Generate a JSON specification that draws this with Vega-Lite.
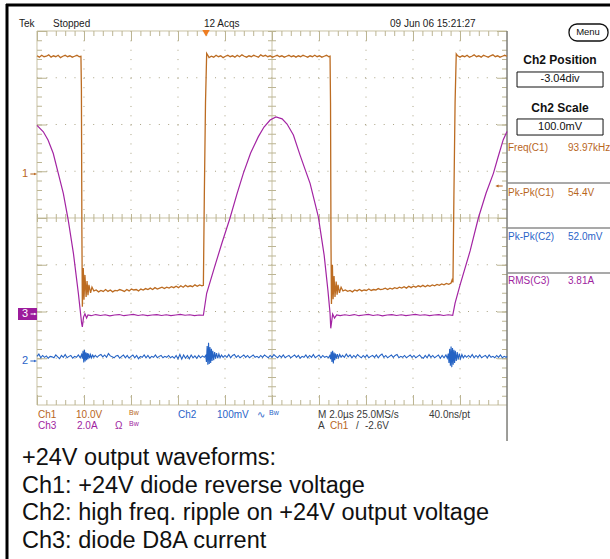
{
"$schema": "https://vega.github.io/schema/vega-lite/v6.json",
"width": 610, "height": 559, "autosize": "none", "padding": 0, "background": "white",
"config": {"view": {"stroke": null}, "text": {"font": "Liberation Sans"}},
"datasets": {
"ch1": [{"t":0,"V":25.1},{"t":0.1,"V":24.8},{"t":0.2,"V":25.2},{"t":0.3,"V":24.9},{"t":0.4,"V":25.0},{"t":0.5,"V":25.3},{"t":0.6,"V":24.8},{"t":0.7,"V":25.1},{"t":0.8,"V":24.9},{"t":0.9,"V":25.2},{"t":1.0,"V":24.7},{"t":1.1,"V":25.0},{"t":1.2,"V":25.2},{"t":1.3,"V":24.9},{"t":1.4,"V":25.1},{"t":1.5,"V":24.8},{"t":1.6,"V":25.0},{"t":1.7,"V":25.2},{"t":1.8,"V":24.9},{"t":1.87,"V":25.0},{"t":1.89,"V":18.0},{"t":1.91,"V":-12.0},{"t":1.93,"V":-28.6},{"t":1.97,"V":-20.3},{"t":2.0,"V":-27.1},{"t":2.04,"V":-21.8},{"t":2.09,"V":-26.5},{"t":2.13,"V":-23.1},{"t":2.17,"V":-26.1},{"t":2.21,"V":-23.9},{"t":2.28,"V":-25.6},{"t":2.34,"V":-24.4},{"t":2.42,"V":-25.2},
{"t":2.52,"V":-25.0},{"t":2.62,"V":-25.4},{"t":2.72,"V":-25.1},{"t":2.82,"V":-25.3},{"t":2.92,"V":-24.9},{"t":3.02,"V":-25.3},{"t":3.12,"V":-25.0},{"t":3.22,"V":-25.4},{"t":3.32,"V":-25.1},{"t":3.42,"V":-25.2},{"t":3.52,"V":-24.9},{"t":3.62,"V":-25.1},{"t":3.72,"V":-25.3},{"t":3.82,"V":-24.9},{"t":3.92,"V":-25.2},{"t":4.02,"V":-24.8},{"t":4.12,"V":-25.0},{"t":4.22,"V":-24.9},{"t":4.32,"V":-25.2},{"t":4.42,"V":-24.8},{"t":4.52,"V":-25.0},{"t":4.62,"V":-24.7},{"t":4.72,"V":-24.9},{"t":4.82,"V":-24.6},{"t":4.92,"V":-24.9},{"t":5.02,"V":-24.5},{"t":5.12,"V":-24.8},{"t":5.22,"V":-24.6},{"t":5.32,"V":-24.4},{"t":5.42,"V":-24.7},{"t":5.52,"V":-24.4},{"t":5.62,"V":-24.6},{"t":5.72,"V":-24.3},{"t":5.82,"V":-24.5},{"t":5.92,"V":-24.2},{"t":6.02,"V":-24.5},{"t":6.12,"V":-24.1},{"t":6.22,"V":-24.4},{"t":6.32,"V":-24.0},{"t":6.42,"V":-24.3},{"t":6.52,"V":-24.1},{"t":6.62,"V":-24.3},{"t":6.72,"V":-23.9},{"t":6.82,"V":-24.2},{"t":6.92,"V":-23.9},{"t":7.02,"V":-24.1},{"t":7.08,"V":-24.0},
{"t":7.12,"V":-5.0},{"t":7.17,"V":15.0},{"t":7.22,"V":25.6},{"t":7.27,"V":25.2},{"t":7.32,"V":24.7},
{"t":7.42,"V":25.0},{"t":7.52,"V":24.8},{"t":7.62,"V":25.2},{"t":7.72,"V":24.9},{"t":7.82,"V":25.1},{"t":7.92,"V":24.7},{"t":8.02,"V":25.0},{"t":8.12,"V":25.2},{"t":8.22,"V":24.9},{"t":8.32,"V":25.1},{"t":8.42,"V":24.8},{"t":8.52,"V":25.2},{"t":8.62,"V":24.9},{"t":8.72,"V":25.3},{"t":8.82,"V":25.0},{"t":8.92,"V":24.8},{"t":9.02,"V":25.1},{"t":9.12,"V":24.9},{"t":9.22,"V":25.2},{"t":9.32,"V":25.0},{"t":9.42,"V":24.8},{"t":9.52,"V":25.3},{"t":9.62,"V":25.0},{"t":9.72,"V":25.2},{"t":9.82,"V":24.9},{"t":9.92,"V":25.1},{"t":10.02,"V":24.8},{"t":10.12,"V":25.0},{"t":10.22,"V":25.2},{"t":10.32,"V":24.9},{"t":10.42,"V":25.1},{"t":10.52,"V":24.8},{"t":10.62,"V":25.0},{"t":10.72,"V":25.2},{"t":10.82,"V":24.9},{"t":10.92,"V":25.1},{"t":11.02,"V":24.8},{"t":11.12,"V":25.1},{"t":11.22,"V":24.9},{"t":11.32,"V":25.2},{"t":11.42,"V":25.0},{"t":11.52,"V":24.8},{"t":11.62,"V":25.1},{"t":11.72,"V":24.9},{"t":11.82,"V":25.2},{"t":11.92,"V":24.9},{"t":12.02,"V":25.1},{"t":12.12,"V":24.8},{"t":12.22,"V":25.0},{"t":12.32,"V":25.2},{"t":12.42,"V":24.9},{"t":12.47,"V":25.0},
{"t":12.49,"V":15.0},{"t":12.51,"V":-15.0},{"t":12.53,"V":-28.0},{"t":12.57,"V":-19.6},{"t":12.6,"V":-27.0},{"t":12.64,"V":-22.0},{"t":12.68,"V":-26.5},{"t":12.73,"V":-23.2},{"t":12.77,"V":-26.0},{"t":12.81,"V":-23.9},{"t":12.87,"V":-25.6},{"t":12.94,"V":-24.4},{"t":13.02,"V":-25.2},
{"t":13.12,"V":-25.0},{"t":13.22,"V":-25.3},{"t":13.32,"V":-25.1},{"t":13.42,"V":-25.4},{"t":13.52,"V":-25.0},{"t":13.62,"V":-25.2},{"t":13.72,"V":-24.9},{"t":13.82,"V":-25.2},{"t":13.92,"V":-25.0},{"t":14.02,"V":-25.1},{"t":14.12,"V":-24.8},{"t":14.22,"V":-25.1},{"t":14.32,"V":-24.9},{"t":14.42,"V":-25.0},{"t":14.52,"V":-24.7},{"t":14.62,"V":-24.9},{"t":14.72,"V":-24.8},{"t":14.82,"V":-24.6},{"t":14.92,"V":-24.9},{"t":15.02,"V":-24.6},{"t":15.12,"V":-24.8},{"t":15.22,"V":-24.5},{"t":15.32,"V":-24.7},{"t":15.42,"V":-24.4},{"t":15.52,"V":-24.6},{"t":15.62,"V":-24.3},{"t":15.72,"V":-24.6},{"t":15.82,"V":-24.2},{"t":15.92,"V":-24.5},{"t":16.02,"V":-24.2},{"t":16.12,"V":-24.4},{"t":16.22,"V":-24.1},{"t":16.32,"V":-24.3},{"t":16.42,"V":-24.0},{"t":16.52,"V":-24.3},{"t":16.62,"V":-24.0},{"t":16.72,"V":-24.2},{"t":16.82,"V":-23.9},{"t":16.92,"V":-24.1},{"t":17.02,"V":-23.8},{"t":17.12,"V":-24.0},{"t":17.22,"V":-23.7},{"t":17.32,"V":-23.9},{"t":17.42,"V":-23.6},{"t":17.52,"V":-23.8},{"t":17.62,"V":-23.5},{"t":17.68,"V":-22.6},{"t":17.7,"V":-23.4},
{"t":17.74,"V":-5.0},{"t":17.79,"V":15.0},{"t":17.84,"V":25.5},{"t":17.9,"V":25.1},
{"t":18.0,"V":24.8},{"t":18.1,"V":25.1},{"t":18.2,"V":24.9},{"t":18.3,"V":25.2},{"t":18.4,"V":24.8},{"t":18.5,"V":25.0},{"t":18.6,"V":25.3},{"t":18.7,"V":24.9},{"t":18.8,"V":25.1},{"t":18.9,"V":24.8},{"t":19.0,"V":25.2},{"t":19.1,"V":25.0},{"t":19.2,"V":24.8},{"t":19.3,"V":25.1},{"t":19.4,"V":25.3},{"t":19.5,"V":24.9},{"t":19.6,"V":25.1},{"t":19.7,"V":24.8},{"t":19.8,"V":25.0},{"t":19.9,"V":25.2},{"t":20.0,"V":25.0}],
"ch3": [{"t":0,"A":8.06},{"t":0.27,"A":7.79},{"t":0.47,"A":7.44},{"t":0.69,"A":6.87},{"t":0.89,"A":6.07},{"t":1.12,"A":5.15},{"t":1.33,"A":4.01},{"t":1.55,"A":2.59},{"t":1.76,"A":0.88},{"t":1.9,"A":-0.41},{"t":1.93,"A":-0.56},{"t":1.98,"A":-0.14},{"t":2.04,"A":0.0},{"t":2.11,"A":-0.18},{"t":2.17,"A":-0.05},
{"t":2.3,"A":-0.08},{"t":2.5,"A":-0.03},{"t":2.7,"A":-0.07},{"t":2.9,"A":-0.04},{"t":3.1,"A":-0.09},{"t":3.3,"A":-0.05},{"t":3.5,"A":-0.03},{"t":3.7,"A":-0.08},{"t":3.9,"A":-0.05},{"t":4.1,"A":-0.02},{"t":4.3,"A":-0.07},{"t":4.5,"A":-0.04},{"t":4.7,"A":-0.08},{"t":4.9,"A":-0.05},{"t":5.1,"A":-0.03},{"t":5.3,"A":-0.07},{"t":5.5,"A":-0.04},{"t":5.7,"A":-0.08},{"t":5.9,"A":-0.05},{"t":6.1,"A":-0.02},{"t":6.3,"A":-0.06},{"t":6.5,"A":-0.04},{"t":6.7,"A":-0.08},{"t":6.9,"A":-0.05},{"t":7.08,"A":-0.06},
{"t":7.22,"A":0.88},{"t":7.57,"A":2.05},{"t":7.87,"A":3.03},{"t":8.21,"A":4.09},{"t":8.51,"A":5.13},{"t":8.78,"A":6.01},{"t":9.09,"A":6.88},{"t":9.42,"A":7.58},{"t":9.66,"A":7.99},{"t":9.92,"A":8.29},{"t":10.17,"A":8.42},{"t":10.43,"A":8.34},{"t":10.64,"A":8.12},{"t":10.91,"A":7.65},{"t":11.19,"A":6.8},{"t":11.4,"A":6.2},{"t":11.62,"A":5.58},{"t":11.97,"A":4.16},{"t":12.22,"A":2.5},{"t":12.38,"A":1.0},{"t":12.47,"A":0.02},{"t":12.5,"A":-0.62},{"t":12.58,"A":-0.01},{"t":12.66,"A":-0.18},{"t":12.75,"A":-0.05},
{"t":12.9,"A":-0.08},{"t":13.1,"A":-0.04},{"t":13.3,"A":-0.07},{"t":13.5,"A":-0.03},{"t":13.7,"A":-0.08},{"t":13.9,"A":-0.05},{"t":14.1,"A":-0.02},{"t":14.3,"A":-0.07},{"t":14.5,"A":-0.04},{"t":14.7,"A":-0.09},{"t":14.9,"A":-0.05},{"t":15.1,"A":-0.03},{"t":15.3,"A":-0.07},{"t":15.5,"A":-0.04},{"t":15.7,"A":-0.08},{"t":15.9,"A":-0.05},{"t":16.1,"A":-0.02},{"t":16.3,"A":-0.06},{"t":16.5,"A":-0.04},{"t":16.7,"A":-0.08},{"t":16.9,"A":-0.05},{"t":17.1,"A":-0.03},{"t":17.3,"A":-0.07},{"t":17.5,"A":-0.04},{"t":17.69,"A":-0.06},
{"t":17.79,"A":0.46},{"t":18.0,"A":1.23},{"t":18.43,"A":2.69},{"t":18.78,"A":4.1},{"t":19.11,"A":5.17},{"t":19.42,"A":6.01},{"t":19.62,"A":6.71},{"t":19.84,"A":7.45},{"t":20.0,"A":7.8}],
"ch2": [{"t":0,"mV":8},{"t":0.08,"mV":13},{"t":0.16,"mV":5},{"t":0.24,"mV":10},{"t":0.32,"mV":6},{"t":0.4,"mV":9},{"t":0.48,"mV":4},{"t":0.56,"mV":8},{"t":0.64,"mV":7},{"t":0.72,"mV":5},{"t":0.8,"mV":11},{"t":0.88,"mV":7},{"t":0.96,"mV":3},{"t":1.04,"mV":10},{"t":1.12,"mV":6},{"t":1.2,"mV":12},{"t":1.28,"mV":5},{"t":1.36,"mV":8},{"t":1.44,"mV":10},{"t":1.52,"mV":4},{"t":1.6,"mV":8},{"t":1.68,"mV":6},{"t":1.76,"mV":11},{"t":1.84,"mV":5},
{"t":1.9,"mV":12},{"t":1.93,"mV":3},{"t":1.96,"mV":20},{"t":1.99,"mV":-5},{"t":2.02,"mV":22},{"t":2.05,"mV":-3},{"t":2.08,"mV":17},{"t":2.11,"mV":0},{"t":2.14,"mV":15},{"t":2.17,"mV":2},{"t":2.2,"mV":14},{"t":2.24,"mV":4},{"t":2.28,"mV":12},{"t":2.32,"mV":5},{"t":2.37,"mV":11},{"t":2.42,"mV":6},{"t":2.48,"mV":10},
{"t":2.56,"mV":6},{"t":2.64,"mV":10},{"t":2.72,"mV":12},{"t":2.8,"mV":7},{"t":2.88,"mV":11},{"t":2.96,"mV":6},{"t":3.04,"mV":14},{"t":3.12,"mV":9},{"t":3.2,"mV":7},{"t":3.28,"mV":5},{"t":3.36,"mV":9},{"t":3.44,"mV":10},{"t":3.52,"mV":4},{"t":3.6,"mV":8},{"t":3.68,"mV":11},{"t":3.76,"mV":5},{"t":3.84,"mV":10},{"t":3.92,"mV":4},{"t":4.0,"mV":8},{"t":4.08,"mV":11},{"t":4.16,"mV":5},{"t":4.24,"mV":10},{"t":4.32,"mV":3},{"t":4.4,"mV":8},{"t":4.48,"mV":6},{"t":4.56,"mV":11},{"t":4.64,"mV":5},{"t":4.72,"mV":10},{"t":4.8,"mV":4},{"t":4.88,"mV":8},{"t":4.96,"mV":6},{"t":5.04,"mV":11},{"t":5.12,"mV":5},{"t":5.2,"mV":8},{"t":5.28,"mV":10},{"t":5.36,"mV":5},{"t":5.44,"mV":8},{"t":5.52,"mV":6},{"t":5.6,"mV":10},{"t":5.68,"mV":5},{"t":5.76,"mV":8},{"t":5.84,"mV":4},{"t":5.92,"mV":10},{"t":6.0,"mV":3},{"t":6.08,"mV":12},{"t":6.16,"mV":2},{"t":6.24,"mV":11},{"t":6.32,"mV":4},{"t":6.4,"mV":10},{"t":6.48,"mV":3},{"t":6.56,"mV":11},{"t":6.64,"mV":5},{"t":6.72,"mV":9},{"t":6.8,"mV":4},{"t":6.88,"mV":10},{"t":6.96,"mV":5},{"t":7.04,"mV":9},{"t":7.12,"mV":6},
{"t":7.18,"mV":10},{"t":7.21,"mV":-4},{"t":7.24,"mV":30},{"t":7.27,"mV":-10},{"t":7.3,"mV":37},{"t":7.33,"mV":-8},{"t":7.36,"mV":28},{"t":7.39,"mV":-6},{"t":7.42,"mV":24},{"t":7.45,"mV":-2},{"t":7.48,"mV":20},{"t":7.52,"mV":0},{"t":7.56,"mV":17},{"t":7.6,"mV":3},{"t":7.64,"mV":15},{"t":7.69,"mV":4},{"t":7.74,"mV":13},{"t":7.79,"mV":5},{"t":7.85,"mV":11},{"t":7.92,"mV":6},{"t":8.0,"mV":10},
{"t":8.08,"mV":6},{"t":8.16,"mV":12},{"t":8.24,"mV":5},{"t":8.32,"mV":10},{"t":8.4,"mV":12},{"t":8.48,"mV":6},{"t":8.56,"mV":10},{"t":8.64,"mV":5},{"t":8.72,"mV":8},{"t":8.8,"mV":11},{"t":8.88,"mV":6},{"t":8.96,"mV":10},{"t":9.04,"mV":5},{"t":9.12,"mV":8},{"t":9.2,"mV":11},{"t":9.28,"mV":6},{"t":9.36,"mV":8},{"t":9.44,"mV":5},{"t":9.52,"mV":10},{"t":9.6,"mV":6},{"t":9.68,"mV":11},{"t":9.76,"mV":8},{"t":9.84,"mV":5},{"t":9.92,"mV":10},{"t":10.0,"mV":6},{"t":10.08,"mV":12},{"t":10.16,"mV":8},{"t":10.24,"mV":5},{"t":10.32,"mV":10},{"t":10.4,"mV":6},{"t":10.48,"mV":11},{"t":10.56,"mV":5},{"t":10.64,"mV":8},{"t":10.72,"mV":10},{"t":10.8,"mV":5},{"t":10.88,"mV":8},{"t":10.96,"mV":11},{"t":11.04,"mV":6},{"t":11.12,"mV":10},{"t":11.2,"mV":4},{"t":11.28,"mV":8},{"t":11.36,"mV":6},{"t":11.44,"mV":11},{"t":11.52,"mV":5},{"t":11.6,"mV":10},{"t":11.68,"mV":6},{"t":11.76,"mV":12},{"t":11.84,"mV":5},{"t":11.92,"mV":8},{"t":12.0,"mV":11},{"t":12.08,"mV":5},{"t":12.16,"mV":10},{"t":12.24,"mV":6},{"t":12.32,"mV":8},{"t":12.4,"mV":5},
{"t":12.46,"mV":10},{"t":12.49,"mV":2},{"t":12.52,"mV":18},{"t":12.55,"mV":-4},{"t":12.58,"mV":20},{"t":12.61,"mV":-7},{"t":12.64,"mV":16},{"t":12.67,"mV":0},{"t":12.7,"mV":14},{"t":12.74,"mV":3},{"t":12.78,"mV":13},{"t":12.83,"mV":5},{"t":12.88,"mV":12},{"t":12.94,"mV":6},{"t":13.0,"mV":10},
{"t":13.08,"mV":6},{"t":13.16,"mV":13},{"t":13.24,"mV":7},{"t":13.32,"mV":11},{"t":13.4,"mV":5},{"t":13.48,"mV":10},{"t":13.56,"mV":6},{"t":13.64,"mV":12},{"t":13.72,"mV":8},{"t":13.8,"mV":5},{"t":13.88,"mV":10},{"t":13.96,"mV":6},{"t":14.04,"mV":11},{"t":14.12,"mV":5},{"t":14.2,"mV":8},{"t":14.28,"mV":10},{"t":14.36,"mV":6},{"t":14.44,"mV":11},{"t":14.52,"mV":5},{"t":14.6,"mV":10},{"t":14.68,"mV":13},{"t":14.76,"mV":6},{"t":14.84,"mV":10},{"t":14.92,"mV":5},{"t":15.0,"mV":8},{"t":15.08,"mV":11},{"t":15.16,"mV":6},{"t":15.24,"mV":10},{"t":15.32,"mV":12},{"t":15.4,"mV":5},{"t":15.48,"mV":8},{"t":15.56,"mV":6},{"t":15.64,"mV":10},{"t":15.72,"mV":5},{"t":15.8,"mV":8},{"t":15.88,"mV":11},{"t":15.96,"mV":6},{"t":16.04,"mV":10},{"t":16.12,"mV":5},{"t":16.2,"mV":8},{"t":16.28,"mV":11},{"t":16.36,"mV":6},{"t":16.44,"mV":4},{"t":16.52,"mV":10},{"t":16.6,"mV":5},{"t":16.68,"mV":12},{"t":16.76,"mV":6},{"t":16.84,"mV":10},{"t":16.92,"mV":5},{"t":17.0,"mV":8},{"t":17.08,"mV":11},{"t":17.16,"mV":4},{"t":17.24,"mV":10},{"t":17.32,"mV":5},{"t":17.4,"mV":11},{"t":17.46,"mV":4},
{"t":17.5,"mV":14},{"t":17.53,"mV":-6},{"t":17.56,"mV":24},{"t":17.59,"mV":-12},{"t":17.62,"mV":29},{"t":17.65,"mV":-15},{"t":17.68,"mV":26},{"t":17.71,"mV":-10},{"t":17.74,"mV":22},{"t":17.77,"mV":-6},{"t":17.8,"mV":20},{"t":17.84,"mV":-2},{"t":17.88,"mV":17},{"t":17.92,"mV":1},{"t":17.97,"mV":14},{"t":18.02,"mV":3},{"t":18.08,"mV":12},{"t":18.14,"mV":5},{"t":18.21,"mV":10},{"t":18.28,"mV":6},
{"t":18.36,"mV":10},{"t":18.44,"mV":6},{"t":18.52,"mV":12},{"t":18.6,"mV":5},{"t":18.68,"mV":10},{"t":18.76,"mV":6},{"t":18.84,"mV":11},{"t":18.92,"mV":5},{"t":19.0,"mV":8},{"t":19.08,"mV":10},{"t":19.16,"mV":5},{"t":19.24,"mV":11},{"t":19.32,"mV":6},{"t":19.4,"mV":8},{"t":19.48,"mV":5},{"t":19.56,"mV":10},{"t":19.64,"mV":6},{"t":19.72,"mV":11},{"t":19.8,"mV":5},{"t":19.88,"mV":8},{"t":19.96,"mV":6},{"t":20.0,"mV":8}]
},
"layer": [
{
"encoding": {
 "x": {"field": "d", "type": "quantitative", "scale": {"domain": [-0.787, 12.191], "nice": false, "zero": false}, "axis": null},
 "y": {"field": "v", "type": "quantitative", "scale": {"domain": [-7.294, 4.663], "nice": false, "zero": false}, "axis": null}
},
"layer": [
 {"data": {"values": [{"d":1,"v":4,"d2":1,"v2":-4},{"d":2,"v":4,"d2":2,"v2":-4},{"d":3,"v":4,"d2":3,"v2":-4},{"d":4,"v":4,"d2":4,"v2":-4},{"d":6,"v":4,"d2":6,"v2":-4},{"d":7,"v":4,"d2":7,"v2":-4},{"d":8,"v":4,"d2":8,"v2":-4},{"d":9,"v":4,"d2":9,"v2":-4},{"d":0,"v":3,"d2":10,"v2":3},{"d":0,"v":2,"d2":10,"v2":2},{"d":0,"v":1,"d2":10,"v2":1},{"d":0,"v":-1,"d2":10,"v2":-1},{"d":0,"v":-2,"d2":10,"v2":-2},{"d":0,"v":-3,"d2":10,"v2":-3}]},
  "mark": {"type": "rule", "color": "#a9a283", "strokeWidth": 1, "strokeDash": [1, 8.37]},
  "encoding": {"x2": {"field": "d2"}, "y2": {"field": "v2"}}},
 {"data": {"values": [{"d":0,"v":4,"d2":10,"v2":4},{"d":0,"v":-4,"d2":10,"v2":-4},{"d":0,"v":4,"d2":0,"v2":-4},{"d":0,"v":0,"d2":10,"v2":0},{"d":5,"v":4,"d2":5,"v2":-4}]},
  "mark": {"type": "rule", "color": "#c9c2a4", "strokeWidth": 1},
  "encoding": {"x2": {"field": "d2"}, "y2": {"field": "v2"}}},
 {"data": {"values": [{"d":0,"v":0,"d2":10,"v2":0}]},
  "mark": {"type": "rule", "color": "#bcb593", "strokeWidth": 8, "strokeDash": [1, 8.4]},
  "encoding": {"x2": {"field": "d2"}, "y2": {"field": "v2"}}},
 {"data": {"values": [{"d":5,"v":4,"d2":5,"v2":-4}]},
  "mark": {"type": "rule", "color": "#bcb593", "strokeWidth": 8, "strokeDash": [1, 8.35]},
  "encoding": {"x2": {"field": "d2"}, "y2": {"field": "v2"}}},
 {"data": {"values": [{"d":0,"v":3.947,"d2":10,"v2":3.947},{"d":0,"v":-3.947,"d2":10,"v2":-3.947}]},
  "mark": {"type": "rule", "color": "#bcb593", "strokeWidth": 5, "strokeDash": [1, 8.4]},
  "encoding": {"x2": {"field": "d2"}, "y2": {"field": "v2"}}},
 {"data": {"values": [{"d":0.053,"v":4,"d2":0.053,"v2":-4},{"d":9.947,"v":4,"d2":9.947,"v2":-4}]},
  "mark": {"type": "rule", "color": "#bcb593", "strokeWidth": 5, "strokeDash": [1, 8.35]},
  "encoding": {"x2": {"field": "d2"}, "y2": {"field": "v2"}}},
 {"data": {"values": [{"d":0,"v":3.893,"d2":10,"v2":3.893},{"d":0,"v":-3.893,"d2":10,"v2":-3.893}]},
  "mark": {"type": "rule", "color": "#bcb593", "strokeWidth": 10, "strokeDash": [1, 46]},
  "encoding": {"x2": {"field": "d2"}, "y2": {"field": "v2"}}},
 {"data": {"values": [{"d":0.106,"v":4,"d2":0.106,"v2":-4},{"d":9.894,"v":4,"d2":9.894,"v2":-4}]},
  "mark": {"type": "rule", "color": "#bcb593", "strokeWidth": 10, "strokeDash": [1, 45.75]},
  "encoding": {"x2": {"field": "d2"}, "y2": {"field": "v2"}}},
 {"data": {"values": [{"d":10,"v":4,"d2":10,"v2":-4.77}]},
  "mark": {"type": "rule", "color": "#7d7d78", "strokeWidth": 1.5},
  "encoding": {"x2": {"field": "d2"}, "y2": {"field": "v2"}}},
 {"data": {"values": [{"d":10,"v":0.749,"d2":12.191,"v2":0.749},{"d":10,"v":-0.214,"d2":12.191,"v2":-0.214},{"d":10,"v":-1.176,"d2":12.191,"v2":-1.176}]},
  "mark": {"type": "rule", "color": "#8c8c8c", "strokeWidth": 1.5},
  "encoding": {"x2": {"field": "d2"}, "y2": {"field": "v2"}}},
 {"data": {"values": [{"d":-0.66,"v":4.556,"d2":12.191,"v2":4.556},{"d":-0.638,"v":4.578,"d2":-0.638,"v2":-7.294}]},
  "mark": {"type": "rule", "color": "#000000", "strokeWidth": 3},
  "encoding": {"x2": {"field": "d2"}, "y2": {"field": "v2"}}},
 {"data": {"values": [{"d":11.319,"v":4.15,"d2":12.149,"v2":3.786}]},
  "mark": {"type": "rect", "fill": "white", "stroke": "#111111", "strokeWidth": 1.3, "cornerRadius": 8},
  "encoding": {"x2": {"field": "d2"}, "y2": {"field": "v2"}}},
 {"data": {"values": [{"d":10.213,"v":3.123,"d2":12.043,"v2":2.802},{"d":10.213,"v":2.118,"d2":12.043,"v2":1.775}]},
  "mark": {"type": "rect", "fill": "white", "stroke": "#111111", "strokeWidth": 1},
  "encoding": {"x2": {"field": "d2"}, "y2": {"field": "v2"}}},
 {"data": {"values": [{"d":-0.404,"v":-1.925,"d2":0,"v2":-2.182}]},
  "mark": {"type": "rect", "fill": "#9c1c9c"},
  "encoding": {"x2": {"field": "d2"}, "y2": {"field": "v2"}}},
 {"data": {"values": [{"d":3.596,"v":3.95}]},
  "mark": {"type": "point", "shape": "triangle-down", "filled": true, "size": 55, "color": "#ee7d22", "opacity": 1}},
 {"data": {"values": [{"d":-0.07,"v":0.941}]},
  "mark": {"type": "point", "shape": "arrow", "filled": true, "size": 45, "color": "#b8661c", "opacity": 1, "angle": 90}},
 {"data": {"values": [{"d":9.83,"v":0.684}]},
  "mark": {"type": "point", "shape": "arrow", "filled": true, "size": 55, "color": "#b8661c", "opacity": 1, "angle": 270}},
 {"data": {"values": [{"d":-0.07,"v":-2.053}]},
  "mark": {"type": "point", "shape": "arrow", "filled": true, "size": 40, "color": "white", "opacity": 1, "angle": 90}},
 {"data": {"values": [{"d":-0.07,"v":-3.059}]},
  "mark": {"type": "point", "shape": "arrow", "filled": true, "size": 45, "color": "#2a64c8", "opacity": 1, "angle": 90}},
 {"data": {"values": [{"d":-0.383,"v":4.15,"label":"Tek"},{"d":0.34,"v":4.15,"label":"Stopped"},{"d":3.553,"v":4.15,"label":"12 Acqs"},{"d":7.511,"v":4.15,"label":"09 Jun 06 15:21:27"}]},
  "mark": {"type": "text", "align": "left", "baseline": "middle", "fontSize": 10, "color": "#1a1a1a"},
  "encoding": {"text": {"field": "label"}}},
 {"data": {"values": [{"d":11.723,"v":3.968,"label":"Menu"}]},
  "mark": {"type": "text", "align": "center", "baseline": "middle", "fontSize": 9.5, "color": "#111111"},
  "encoding": {"text": {"field": "label"}}},
 {"data": {"values": [{"d":11.128,"v":3.38,"label":"Ch2 Position"},{"d":11.128,"v":2.353,"label":"Ch2 Scale"}]},
  "mark": {"type": "text", "align": "center", "baseline": "middle", "fontSize": 12, "fontWeight": "bold", "color": "#111111"},
  "encoding": {"text": {"field": "label"}}},
 {"data": {"values": [{"d":11.128,"v":2.963,"label":"-3.04div"},{"d":11.128,"v":1.947,"label":"100.0mV"}]},
  "mark": {"type": "text", "align": "center", "baseline": "middle", "fontSize": 11, "color": "#111111"},
  "encoding": {"text": {"field": "label"}}},
 {"data": {"values": [{"d":10.02,"v":1.497,"label":"Freq(C1)"},{"d":11.298,"v":1.497,"label":"93.97kHz"},{"d":10.02,"v":0.535,"label":"Pk-Pk(C1)"},{"d":11.298,"v":0.535,"label":"54.4V"},{"d":0.021,"v":-4.214,"label":"Ch1"},{"d":0.83,"v":-4.214,"label":"10.0V"},{"d":6.234,"v":-4.449,"label":"Ch1"}]},
  "mark": {"type": "text", "align": "left", "baseline": "middle", "fontSize": 10, "color": "#b8661c"},
  "encoding": {"text": {"field": "label"}}},
 {"data": {"values": [{"d":10.02,"v":-0.406,"label":"Pk-Pk(C2)"},{"d":11.298,"v":-0.406,"label":"52.0mV"},{"d":3.0,"v":-4.214,"label":"Ch2"},{"d":3.83,"v":-4.214,"label":"100mV"},{"d":4.681,"v":-4.214,"label":"∿"}]},
  "mark": {"type": "text", "align": "left", "baseline": "middle", "fontSize": 10, "color": "#2a64c8"},
  "encoding": {"text": {"field": "label"}}},
 {"data": {"values": [{"d":10.02,"v":-1.348,"label":"RMS(C3)"},{"d":11.298,"v":-1.348,"label":"3.81A"},{"d":0.021,"v":-4.449,"label":"Ch3"},{"d":0.851,"v":-4.449,"label":"2.0A"},{"d":1.66,"v":-4.449,"label":"Ω"}]},
  "mark": {"type": "text", "align": "left", "baseline": "middle", "fontSize": 10, "color": "#a01ea0"},
  "encoding": {"text": {"field": "label"}}},
 {"data": {"values": [{"d":1.957,"v":-4.171,"label":"Bw"}]},
  "mark": {"type": "text", "align": "left", "baseline": "middle", "fontSize": 7, "color": "#b8661c"},
  "encoding": {"text": {"field": "label"}}},
 {"data": {"values": [{"d":4.936,"v":-4.171,"label":"Bw"}]},
  "mark": {"type": "text", "align": "left", "baseline": "middle", "fontSize": 7, "color": "#2a64c8"},
  "encoding": {"text": {"field": "label"}}},
 {"data": {"values": [{"d":1.957,"v":-4.406,"label":"Bw"}]},
  "mark": {"type": "text", "align": "left", "baseline": "middle", "fontSize": 7, "color": "#a01ea0"},
  "encoding": {"text": {"field": "label"}}},
 {"data": {"values": [{"d":5.979,"v":-4.214,"label":"M 2.0µs 25.0MS/s"},{"d":8.34,"v":-4.214,"label":"40.0ns/pt"},{"d":5.979,"v":-4.449,"label":"A"},{"d":6.787,"v":-4.449,"label":"/"},{"d":6.979,"v":-4.449,"label":"-2.6V"}]},
  "mark": {"type": "text", "align": "left", "baseline": "middle", "fontSize": 10, "color": "#3a3a3a"},
  "encoding": {"text": {"field": "label"}}},
 {"data": {"values": [{"d":-0.255,"v":0.941,"label":"1"}]},
  "mark": {"type": "text", "align": "center", "baseline": "middle", "fontSize": 11, "color": "#b8661c"},
  "encoding": {"text": {"field": "label"}}},
 {"data": {"values": [{"d":-0.255,"v":-2.053,"label":"3"}]},
  "mark": {"type": "text", "align": "center", "baseline": "middle", "fontSize": 11, "color": "white"},
  "encoding": {"text": {"field": "label"}}},
 {"data": {"values": [{"d":-0.255,"v":-3.059,"label":"2"}]},
  "mark": {"type": "text", "align": "center", "baseline": "middle", "fontSize": 11, "color": "#2a64c8"},
  "encoding": {"text": {"field": "label"}}},
 {"data": {"values": [{"d":-0.319,"v":-5.283,"label":"+24V output waveforms:"},{"d":-0.319,"v":-5.872,"label":"Ch1: +24V diode reverse voltage"},{"d":-0.319,"v":-6.46,"label":"Ch2: high freq. ripple on +24V output voltage"},{"d":-0.319,"v":-7.059,"label":"Ch3: diode D8A current"}]},
  "mark": {"type": "text", "align": "left", "baseline": "alphabetic", "fontSize": 23.5, "color": "#111111"},
  "encoding": {"text": {"field": "label"}}}
]
},
{"data": {"name": "ch2"}, "mark": {"type": "line", "color": "#2563c4", "strokeWidth": 1.1},
 "encoding": {"x": {"field": "t", "type": "quantitative", "scale": {"domain": [-1.574, 24.382], "nice": false, "zero": false}, "axis": null},
  "y": {"field": "mV", "type": "quantitative", "scale": {"domain": [-425.4, 770.3], "nice": false, "zero": false}, "axis": null}}},
{"data": {"name": "ch3"}, "mark": {"type": "line", "color": "#a324a3", "strokeWidth": 1.2},
 "encoding": {"x": {"field": "t", "type": "quantitative", "scale": {"domain": [-1.574, 24.382], "nice": false, "zero": false}, "axis": null},
  "y": {"field": "A", "type": "quantitative", "scale": {"domain": [-10.488, 13.426], "nice": false, "zero": false}, "axis": null}}},
{"data": {"name": "ch1"}, "mark": {"type": "line", "color": "#bc6c22", "strokeWidth": 1.3},
 "encoding": {"x": {"field": "t", "type": "quantitative", "scale": {"domain": [-1.574, 24.382], "nice": false, "zero": false}, "axis": null},
  "y": {"field": "V", "type": "quantitative", "scale": {"domain": [-82.54, 37.03], "nice": false, "zero": false}, "axis": null}}}
],
"resolve": {"scale": {"x": "independent", "y": "independent"}}
}
